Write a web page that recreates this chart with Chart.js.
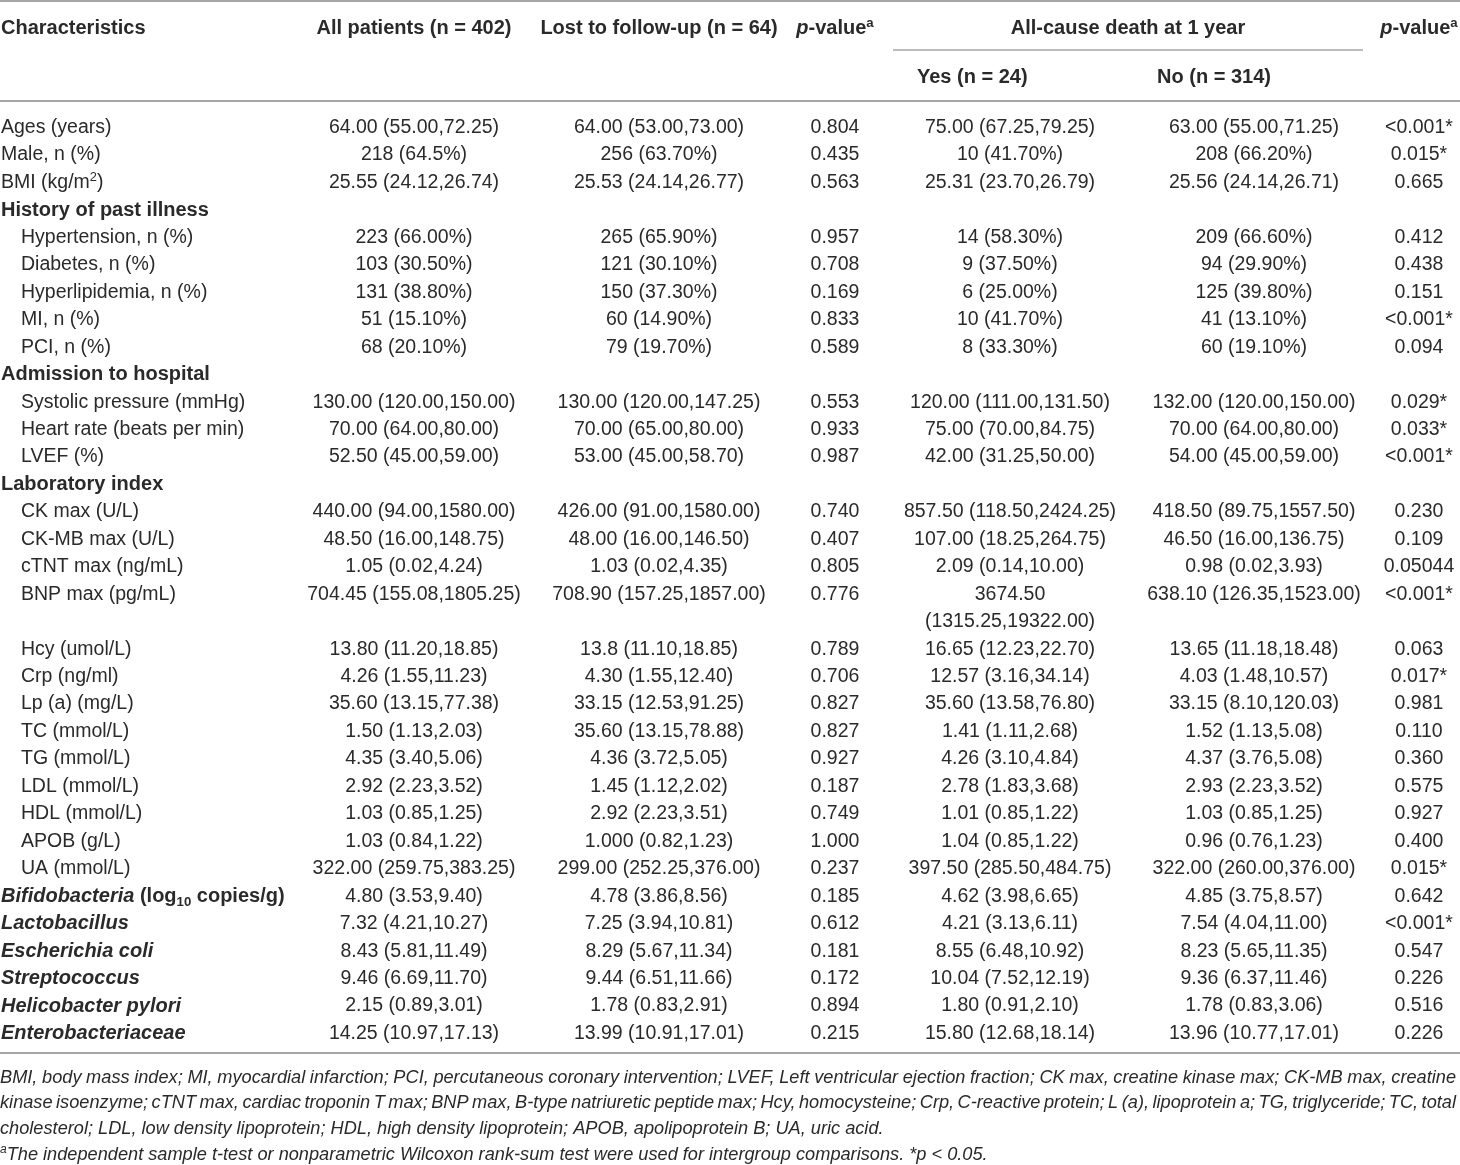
<!DOCTYPE html>
<html>
<head>
<meta charset="utf-8">
<script src="https://cdn.jsdelivr.net/npm/chart.js@4.4.1/dist/chart.umd.min.js"></script>
<style>
  html, body { margin: 0; padding: 0; background: #fff; }
  #tabla { display: block; }
</style>
</head>
<body>
<canvas id="tabla" width="1460" height="1165"></canvas>
<script>
// --- data (markup: <i>italic</i>, ^{sup}, _{sub}) ---
const columnHeads = ["All patients (n = 402)", "Lost to follow-up (n = 64)", "<i>p</i>-value^{a}", "All-cause death at 1 year", "<i>p</i>-value^{a}"];
const subHeads = ["Yes (n = 24)", "No (n = 314)"];
const sectionHeads = ["History of past illness", "Admission to hospital", "Laboratory index"];

const rowLabels = [
  "Ages (years)", "Male, n (%)", "BMI (kg/m^{2})",
  "History of past illness",
  "Hypertension, n (%)", "Diabetes, n (%)", "Hyperlipidemia, n (%)", "MI, n (%)", "PCI, n (%)",
  "Admission to hospital",
  "Systolic pressure (mmHg)", "Heart rate (beats per min)", "LVEF (%)",
  "Laboratory index",
  "CK max (U/L)", "CK-MB max (U/L)", "cTNT max (ng/mL)", "BNP max (pg/mL)", "Hcy (umol/L)", "Crp (ng/ml)",
  "Lp (a) (mg/L)", "TC (mmol/L)", "TG (mmol/L)", "LDL (mmol/L)", "HDL (mmol/L)", "APOB (g/L)", "UA (mmol/L)",
  "<i>Bifidobacteria</i> (log_{10} copies/g)", "<i>Lactobacillus</i>", "<i>Escherichia coli</i>", "<i>Streptococcus</i>",
  "<i>Helicobacter pylori</i>", "<i>Enterobacteriaceae</i>"
];

const allPatients = [
  "64.00 (55.00,72.25)", "218 (64.5%)", "25.55 (24.12,26.74)", null,
  "223 (66.00%)", "103 (30.50%)", "131 (38.80%)", "51 (15.10%)", "68 (20.10%)", null,
  "130.00 (120.00,150.00)", "70.00 (64.00,80.00)", "52.50 (45.00,59.00)", null,
  "440.00 (94.00,1580.00)", "48.50 (16.00,148.75)", "1.05 (0.02,4.24)", "704.45 (155.08,1805.25)",
  "13.80 (11.20,18.85)", "4.26 (1.55,11.23)", "35.60 (13.15,77.38)", "1.50 (1.13,2.03)", "4.35 (3.40,5.06)",
  "2.92 (2.23,3.52)", "1.03 (0.85,1.25)", "1.03 (0.84,1.22)", "322.00 (259.75,383.25)",
  "4.80 (3.53,9.40)", "7.32 (4.21,10.27)", "8.43 (5.81,11.49)", "9.46 (6.69,11.70)", "2.15 (0.89,3.01)", "14.25 (10.97,17.13)"
];
const lostFollowUp = [
  "64.00 (53.00,73.00)", "256 (63.70%)", "25.53 (24.14,26.77)", null,
  "265 (65.90%)", "121 (30.10%)", "150 (37.30%)", "60 (14.90%)", "79 (19.70%)", null,
  "130.00 (120.00,147.25)", "70.00 (65.00,80.00)", "53.00 (45.00,58.70)", null,
  "426.00 (91.00,1580.00)", "48.00 (16.00,146.50)", "1.03 (0.02,4.35)", "708.90 (157.25,1857.00)",
  "13.8 (11.10,18.85)", "4.30 (1.55,12.40)", "33.15 (12.53,91.25)", "35.60 (13.15,78.88)", "4.36 (3.72,5.05)",
  "1.45 (1.12,2.02)", "2.92 (2.23,3.51)", "1.000 (0.82,1.23)", "299.00 (252.25,376.00)",
  "4.78 (3.86,8.56)", "7.25 (3.94,10.81)", "8.29 (5.67,11.34)", "9.44 (6.51,11.66)", "1.78 (0.83,2.91)", "13.99 (10.91,17.01)"
];
const pLost = [
  "0.804", "0.435", "0.563", null,
  "0.957", "0.708", "0.169", "0.833", "0.589", null,
  "0.553", "0.933", "0.987", null,
  "0.740", "0.407", "0.805", "0.776", "0.789", "0.706", "0.827", "0.827", "0.927",
  "0.187", "0.749", "1.000", "0.237",
  "0.185", "0.612", "0.181", "0.172", "0.894", "0.215"
];
const deathYes = [
  "75.00 (67.25,79.25)", "10 (41.70%)", "25.31 (23.70,26.79)", null,
  "14 (58.30%)", "9 (37.50%)", "6 (25.00%)", "10 (41.70%)", "8 (33.30%)", null,
  "120.00 (111.00,131.50)", "75.00 (70.00,84.75)", "42.00 (31.25,50.00)", null,
  "857.50 (118.50,2424.25)", "107.00 (18.25,264.75)", "2.09 (0.14,10.00)", "3674.50\n(1315.25,19322.00)",
  "16.65 (12.23,22.70)", "12.57 (3.16,34.14)", "35.60 (13.58,76.80)", "1.41 (1.11,2.68)", "4.26 (3.10,4.84)",
  "2.78 (1.83,3.68)", "1.01 (0.85,1.22)", "1.04 (0.85,1.22)", "397.50 (285.50,484.75)",
  "4.62 (3.98,6.65)", "4.21 (3.13,6.11)", "8.55 (6.48,10.92)", "10.04 (7.52,12.19)", "1.80 (0.91,2.10)", "15.80 (12.68,18.14)"
];
const deathNo = [
  "63.00 (55.00,71.25)", "208 (66.20%)", "25.56 (24.14,26.71)", null,
  "209 (66.60%)", "94 (29.90%)", "125 (39.80%)", "41 (13.10%)", "60 (19.10%)", null,
  "132.00 (120.00,150.00)", "70.00 (64.00,80.00)", "54.00 (45.00,59.00)", null,
  "418.50 (89.75,1557.50)", "46.50 (16.00,136.75)", "0.98 (0.02,3.93)", "638.10 (126.35,1523.00)",
  "13.65 (11.18,18.48)", "4.03 (1.48,10.57)", "33.15 (8.10,120.03)", "1.52 (1.13,5.08)", "4.37 (3.76,5.08)",
  "2.93 (2.23,3.52)", "1.03 (0.85,1.25)", "0.96 (0.76,1.23)", "322.00 (260.00,376.00)",
  "4.85 (3.75,8.57)", "7.54 (4.04,11.00)", "8.23 (5.65,11.35)", "9.36 (6.37,11.46)", "1.78 (0.83,3.06)", "13.96 (10.77,17.01)"
];
const pDeath = [
  "<0.001*", "0.015*", "0.665", null,
  "0.412", "0.438", "0.151", "<0.001*", "0.094", null,
  "0.029*", "0.033*", "<0.001*", null,
  "0.230", "0.109", "0.05044", "<0.001*", "0.063", "0.017*", "0.981", "0.110", "0.360",
  "0.575", "0.927", "0.400", "0.015*",
  "0.642", "<0.001*", "0.547", "0.226", "0.516", "0.226"
];

const footLines = [
  "BMI, body mass index; MI, myocardial infarction; PCI, percutaneous coronary intervention; LVEF, Left ventricular ejection fraction; CK max, creatine kinase max; CK-MB max, creatine",
  "kinase isoenzyme; cTNT max, cardiac troponin T max; BNP max, B-type natriuretic peptide max; Hcy, homocysteine; Crp, C-reactive protein; L (a), lipoprotein a; TG, triglyceride; TC, total",
  "cholesterol; LDL, low density lipoprotein; HDL, high density lipoprotein; APOB, apolipoprotein B; UA, uric acid.",
  "^{a}The independent sample t-test or nonparametric Wilcoxon rank-sum test were used for intergroup comparisons. *p < 0.05."
];

// --- layout (x in px units of the x scale, y in row units of the y scale) ---
const FAM = '"Liberation Sans", Arial, sans-serif';
const REG = 19.5, BOLD = 20, FOOT = 18.2;
const INK = "#2a2a2a", RULE = "#a6a6a6";
const colX = { label: 1, indent: 21, all: 414, lost: 659, pLost: 835, yes: 1010, no: 1254, pDeath: 1419 };
const ROW_TOP = 126, ROW_STEP = 27.45, H = 1165, W = 1460;
const yHead1 = (27 - ROW_TOP) / ROW_STEP, yHead2 = (76 - ROW_TOP) / ROW_STEP;
const yRuleTop = (1 - ROW_TOP) / ROW_STEP, yRuleSpan = (50 - ROW_TOP) / ROW_STEP;
const yRuleHead = (101 - ROW_TOP) / ROW_STEP, yRuleEnd = (1053 - ROW_TOP) / ROW_STEP;
const yFoot = [1076, 1101.5, 1127, 1153].map(v => (v - ROW_TOP) / ROW_STEP);

function parseRich(str) {
  const segs = [];
  let italic = false, i = 0, buf = "";
  const push = (t, mode) => { if (t) segs.push({ t, italic, mode }); };
  while (i < str.length) {
    if (str.startsWith("<i>", i) || str.startsWith("</i>", i)) {
      push(buf, "n"); buf = "";
      italic = str[i + 1] === "i";
      i += italic ? 3 : 4; continue;
    }
    const c = str[i];
    if ((c === "^" || c === "_") && str[i + 1] === "{") {
      push(buf, "n"); buf = "";
      const end = str.indexOf("}", i);
      push(str.slice(i + 2, end), c === "^" ? "sup" : "sub");
      i = end + 1; continue;
    }
    buf += c; i++;
  }
  push(buf, "n");
  return segs;
}

function fontOf(seg, size, bold, allItalic) {
  const s = seg.mode === "n" ? size : size * 0.66;
  return (seg.italic || allItalic ? "italic " : "") + (bold ? "bold " : "") + s + "px " + FAM;
}

function drawRich(ctx, str, x, y, align, size, bold, allItalic) {
  const segs = parseRich(str);
  let total = 0;
  segs.forEach(s => { ctx.font = fontOf(s, size, bold, allItalic); s.w = ctx.measureText(s.t).width; total += s.w; });
  let cx = align === "center" ? x - total / 2 : align === "right" ? x - total : x;
  const base = y + size * 0.36;
  ctx.textAlign = "left";
  ctx.textBaseline = "alphabetic";
  segs.forEach(s => {
    ctx.font = fontOf(s, size, bold, allItalic);
    const dy = s.mode === "sup" ? -size * 0.38 : s.mode === "sub" ? size * 0.22 : 0;
    ctx.fillText(s.t, cx, base + dy);
    cx += s.w;
  });
}

function drawJustified(ctx, str, x0, x1, y, size) {
  ctx.font = "italic " + size + "px " + FAM;
  const words = str.split(" ");
  const widths = words.map(w => ctx.measureText(w).width);
  const gap = (x1 - x0 - widths.reduce((a, b) => a + b, 0)) / (words.length - 1);
  let cx = x0;
  ctx.textAlign = "left";
  ctx.textBaseline = "alphabetic";
  words.forEach((w, k) => { ctx.fillText(w, cx, y + size * 0.36); cx += widths[k] + gap; });
}

const tablePlugin = {
  id: "tablePlugin",
  afterDraw(chart) {
    const ctx = chart.ctx, xs = chart.scales.x, ys = chart.scales.y;
    const X = v => xs.getPixelForValue(v), Y = v => ys.getPixelForValue(v);
    ctx.save();
    ctx.fillStyle = INK;

    // rules
    ctx.strokeStyle = RULE;
    ctx.lineWidth = 2;
    [yRuleTop, yRuleHead, yRuleEnd].forEach(r => {
      ctx.beginPath(); ctx.moveTo(X(0), Y(r)); ctx.lineTo(X(W), Y(r)); ctx.stroke();
    });
    ctx.lineWidth = 1.5;
    ctx.beginPath(); ctx.moveTo(X(893), Y(yRuleSpan)); ctx.lineTo(X(1363), Y(yRuleSpan)); ctx.stroke();

    // header
    drawRich(ctx, "Characteristics", X(colX.label), Y(yHead1), "left", BOLD, true);
    drawRich(ctx, columnHeads[0], X(colX.all), Y(yHead1), "center", BOLD, true);
    drawRich(ctx, columnHeads[1], X(colX.lost), Y(yHead1), "center", BOLD, true);
    drawRich(ctx, columnHeads[2], X(colX.pLost), Y(yHead1), "center", BOLD, true);
    drawRich(ctx, columnHeads[3], X(1128), Y(yHead1), "center", BOLD, true);
    drawRich(ctx, columnHeads[4], X(colX.pDeath), Y(yHead1), "center", BOLD, true);
    drawRich(ctx, subHeads[0], X(917), Y(yHead2), "left", BOLD, true);
    drawRich(ctx, subHeads[1], X(1157), Y(yHead2), "left", BOLD, true);

    // body rows
    let line = 0, inSection = false;
    rowLabels.forEach((lab, i) => {
      const isHead = sectionHeads.includes(lab);
      const isBact = lab.startsWith("<i>");
      if (isHead) inSection = true;
      if (isBact) inSection = false;
      const indent = inSection && !isHead;
      drawRich(ctx, lab, X(indent ? colX.indent : colX.label), Y(line), "left",
        isHead || isBact ? BOLD : REG, isHead || isBact);
      let span = 1;
      [[allPatients, colX.all], [lostFollowUp, colX.lost], [pLost, colX.pLost],
       [deathYes, colX.yes], [deathNo, colX.no], [pDeath, colX.pDeath]].forEach(([arr, cx]) => {
        const v = arr[i];
        if (v == null) return;
        const parts = v.split("\n");
        span = Math.max(span, parts.length);
        parts.forEach((p, k) => drawRich(ctx, p, X(cx), Y(line + k), "center", REG, false));
      });
      line += span;
    });

    // footnotes
    footLines.forEach((t, k) => {
      if (k < 2) drawJustified(ctx, t, X(0), X(1456), Y(yFoot[k]), FOOT);
      else drawRich(ctx, t, X(0), Y(yFoot[k]), "left", FOOT, false, true);
    });
    ctx.restore();
  }
};

new Chart(document.getElementById("tabla"), {
  type: "scatter",
  data: { datasets: [] },
  options: {
    responsive: false,
    animation: false,
    events: [],
    layout: { padding: 0 },
    plugins: { legend: { display: false }, tooltip: { enabled: false } },
    scales: {
      x: { type: "linear", display: false, min: 0, max: W },
      y: { type: "linear", display: false, reverse: true,
           min: -ROW_TOP / ROW_STEP, max: (H - ROW_TOP) / ROW_STEP }
    }
  },
  plugins: [tablePlugin]
});
</script>
</body>
</html>
